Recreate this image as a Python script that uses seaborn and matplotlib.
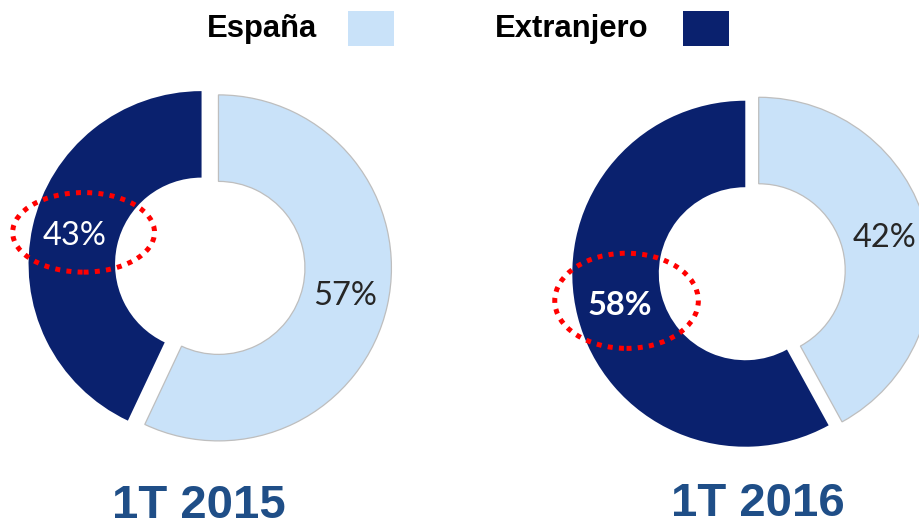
import matplotlib
matplotlib.use("Agg")
import matplotlib.pyplot as plt
from matplotlib.patches import Rectangle, Ellipse
import seaborn as sns

# data
series = ["España", "Extranjero"]
periods = ["1T 2015", "1T 2016"]
espana = [57, 42]
extranjero = [43, 58]

sns.set_theme(style="white")
plt.rcParams["font.family"] = ["Liberation Sans", "DejaVu Sans"]

colors = sns.color_palette(["#C9E2F9", "#0A216E"])
title_color = "#1F4E87"
pct_font = ["Lato", "DejaVu Sans"]

W, H = 919, 527
fig = plt.figure(figsize=(W / 100, H / 100), dpi=100)

R = 173          # pixels per unit radius
box = 400        # axes box size in pixels
centers = [(210, 266), (752, 272)]
title_pos = [(199, 518), (758, 516)]
explode = [0.05, 0.04]
# red dotted ring around the Extranjero label: dx, dy, width, height (data units)
rings = [(0.05, 0.02, 0.82, 0.46), (0.04, 0.03, 0.83, 0.55)]
bold_pct = [False, True]

for i, period in enumerate(periods):
    cx, cy = centers[i]
    ax = fig.add_axes([(cx - box / 2) / W, (H - cy - box / 2) / H, box / W, box / H])
    wedges, _, autotexts = ax.pie(
        [espana[i], extranjero[i]],
        colors=colors,
        startangle=90,
        counterclock=False,
        explode=[explode[i]] * 2,
        radius=1,
        wedgeprops=dict(width=0.5, linewidth=0),
        autopct=lambda p: f"{p:.0f}%",
        pctdistance=0.75,
        textprops=dict(family=pct_font, fontsize=23.5),
    )
    wedges[0].set_edgecolor("#BEBEBE")
    wedges[0].set_linewidth(0.9)
    autotexts[0].set_color("#262626")
    autotexts[1].set_color("white")
    if bold_pct[i]:
        autotexts[1].set_fontweight("bold")

    xt, yt = autotexts[1].get_position()
    dx, dy, rw, rh = rings[i]
    ax.add_patch(Ellipse((xt + dx, yt + dy), rw, rh, fill=False,
                         edgecolor="#FF0000", linewidth=3.6,
                         linestyle=(0, (1, 1.25)), clip_on=False, zorder=5))

    lim = box / 2 / R
    ax.set_xlim(-lim, lim)
    ax.set_ylim(-lim, lim)
    ax.set_axis_off()

    tx, ty = title_pos[i]
    fig.text(tx / W, 1 - ty / H, period, ha="center", va="baseline",
             fontsize=34, fontweight="bold", color=title_color)

# legend across the top
legend_text_x = [207, 495]
legend_box_x = [348, 683]
for name, tx, bx, col in zip(series, legend_text_x, legend_box_x, colors):
    fig.text(tx / W, 1 - 37 / H, name, ha="left", va="baseline",
             fontsize=22.3, fontweight="bold", color="black")
    fig.add_artist(Rectangle((bx / W, 1 - 46 / H), 46 / W, 35 / H,
                             transform=fig.transFigure, facecolor=col,
                             edgecolor="none"))

fig.savefig("out.png", dpi=100)
